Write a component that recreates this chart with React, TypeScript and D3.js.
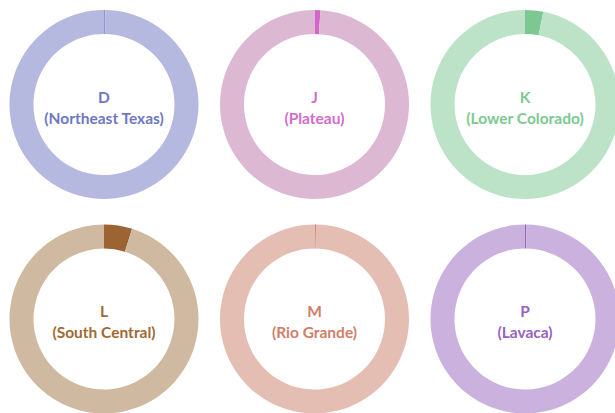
import React from 'react';
import * as d3 from 'd3';

// share of each region (percent) shown as the dark slice; rest is the light ring
const codes = ['D', 'J', 'K', 'L', 'M', 'P'];
const regions = ['Northeast Texas', 'Plateau', 'Lower Colorado', 'South Central', 'Rio Grande', 'Lavaca'];
const shares = [0.25, 1, 3.1, 4.8, 0.25, 0.25];
const ringColors = ['#b5b9e0', '#ddb8d2', '#bce3c7', '#cfb9a0', '#e4bdb3', '#cbb2de'];
const sliceColors = ['#8f96d2', '#d366c8', '#7dc891', '#9b6432', '#cb7d6a', '#9a64c4'];
const textColors = ['#6f77c4', '#d26ccb', '#7dc992', '#9f6a33', '#d07e69', '#9962c2'];

const W = 615;
const H = 413;

const App = () => {
  const x = d3.scalePoint<number>().domain([0, 1, 2]).range([104, 525]);
  const y = d3.scalePoint<number>().domain([0, 1]).range([104.5, 319]);
  const arc = d3.arc<d3.PieArcDatum<number>>().innerRadius(70.5).outerRadius(94.5);
  const pie = d3.pie<number>().sort(null).value((d) => d);

  return (
    <svg width={W} height={H} style={{ position: 'absolute', left: 0, top: 0 }}>
      <rect width={W} height={H} fill="#fff" />
      {codes.map((code, i) => {
        const cx = x(i % 3)!;
        const cy = y(Math.floor(i / 3))!;
        const arcs = pie([shares[i], 100 - shares[i]]);
        return (
          <g key={code} transform={`translate(${cx},${cy})`}>
            {arcs.map((a, j) => (
              <path key={j} d={arc(a)!} fill={j === 0 ? sliceColors[i] : ringColors[i]} />
            ))}
            <text
              textAnchor="middle"
              fill={textColors[i]}
              fontFamily="Lato, 'Open Sans', sans-serif"
              fontWeight="bold"
              fontSize={15.5}
            >
              <tspan x={0} y={-2}>{code}</tspan>
              <tspan x={0} y={19}>({regions[i]})</tspan>
            </text>
          </g>
        );
      })}
    </svg>
  );
};

export default App;
